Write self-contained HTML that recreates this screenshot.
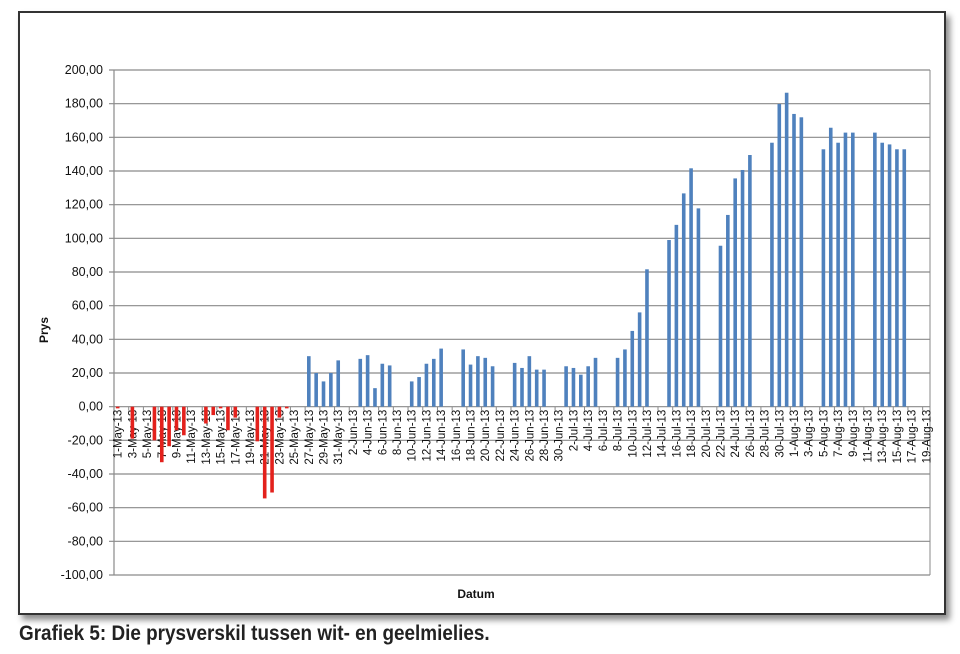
<!DOCTYPE html>
<html><head><meta charset="utf-8"><style>
html,body{margin:0;padding:0;background:#fff;width:960px;height:654px;overflow:hidden;font-family:"Liberation Sans",sans-serif}
#frame{position:absolute;left:18px;top:11px;width:924px;height:600px;border:2px solid #333;background:#fff;box-shadow:4px 5px 6px rgba(0,0,0,0.45)}
#cap{position:absolute;left:19px;top:622px;font-weight:bold;font-size:21px;color:#222;transform:scaleX(0.9);transform-origin:left top;white-space:nowrap}
svg{position:absolute;left:0;top:0}
</style></head><body>
<div id="frame"></div>
<svg id="chart" width="960" height="654"></svg>
<div id="cap">Grafiek 5: Die prysverskil tussen wit- en geelmielies.</div>
<script>
const dayIndex=[0,2,5,6,7,8,9,12,13,14,15,16,19,20,21,22,23,26,27,28,29,30,33,34,35,36,37,40,41,42,43,44,47,48,49,50,51,54,55,56,57,58,61,62,63,64,65,68,69,70,71,72,75,76,77,78,79,82,83,84,85,86,89,90,91,92,93,96,97,98,99,100,103,104,105,106,107];
const values=[-1,-19,-20,-33,-23.5,-14,-17,-10,-5,-1,-14,-6.5,-20.6,-54.5,-51,-6.5,-1,30,20,15,20,27.5,28.4,30.6,11,25.5,24.5,15,17.6,25.5,28.4,34.5,34,25,30,29,24,26,23,30,22,22,24,23,19,24,29,29,34,45,56,81.6,99,108,126.7,141.6,117.8,95.6,113.9,135.6,140.6,149.5,156.8,179.8,186.5,173.9,171.9,152.9,165.7,156.8,162.8,162.8,162.8,156.8,155.8,152.9,152.9];
const yTicks=[200,180,160,140,120,100,80,60,40,20,0,-20,-40,-60,-80,-100];
const months=["May","Jun","Jul","Aug"];
const monthDays=[31,30,31,31];
const nDays=111;
const L=114,R=930,T=70,B=575,yMax=200,yMin=-100;
const bw=(R-L)/nDays;
const xC=i=>L+(i+0.5)*bw;
const yS=v=>T+(yMax-v)/(yMax-yMin)*(B-T);
const svg=document.getElementById('chart');
const NS='http://www.w3.org/2000/svg';
function mk(t,a){const e=document.createElementNS(NS,t);for(const k in a)e.setAttribute(k,a[k]);svg.appendChild(e);return e;}
function dateLabel(i){let d=i,m=0;while(d>=monthDays[m]){d-=monthDays[m];m++;}return (d+1)+'-'+months[m]+'-13';}
yTicks.forEach(v=>{
 const g=mk('line',{x1:L-5,x2:R,y1:yS(v),y2:yS(v),stroke:'#8a8a8a','stroke-width':1.2});
 
 
 const t=mk('text',{x:103,y:yS(v)+4,'text-anchor':'end','font-size':12.5,fill:'#111'});
 t.textContent=v.toFixed(2).replace('.',',');
 
 
});
const ax=mk('line',{x1:L,x2:L,y1:T,y2:B,stroke:'#8a8a8a','stroke-width':1.2});


const rb=mk('line',{x1:R,x2:R,y1:T,y2:B,stroke:'#8a8a8a','stroke-width':1});


for(let i=0;i<=nDays;i+=2){
 const tk=mk('line',{x1:L+i*bw,x2:L+i*bw,y1:yS(0),y2:yS(0)+4,stroke:'#8a8a8a'});
 
 
}
for(let i=0;i<nDays;i+=2){
 const x=xC(i)+4,y=yS(0)+3;
 const t=mk('text',{x:x,y:y,'text-anchor':'end','font-size':11.5,fill:'#111',transform:`rotate(-90 ${x} ${y})`});
 t.textContent=dateLabel(i);
 
 
}
dayIndex.forEach((d,k)=>{
 const v=values[k];const y0=yS(0),y1=yS(v);
 const r=mk('rect',{x:xC(d)-1.8,y:Math.min(y0,y1),width:3.6,height:Math.max(1,Math.abs(y1-y0)),fill:v<0?'#e3211c':'#4f81bd'});
 
 
});
const yt=mk('text',{x:48,y:330,'text-anchor':'middle','font-size':12,'font-weight':'bold',transform:'rotate(-90 48 330)',fill:'#111'});
yt.textContent='Prys';


const xt=mk('text',{x:476,y:598,'text-anchor':'middle','font-size':12,'font-weight':'bold',fill:'#111'});
xt.textContent='Datum';


</script>
</body></html>
